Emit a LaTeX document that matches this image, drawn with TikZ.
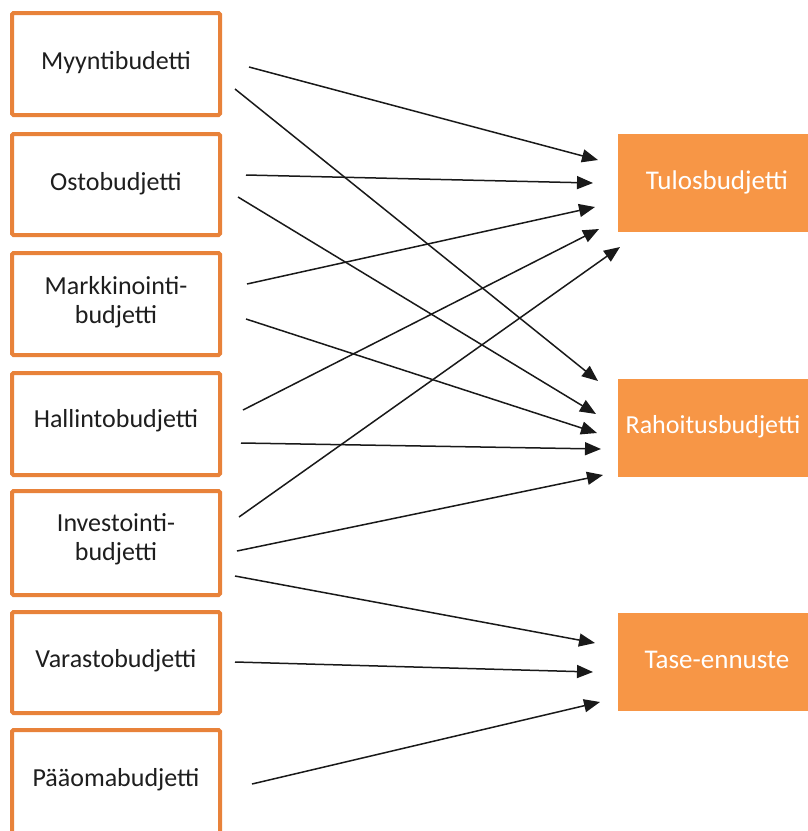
\documentclass[tikz,border=0pt]{standalone}
\usepackage{fontspec}
\setmainfont{Carlito}
\usetikzlibrary{arrows.meta}
\definecolor{boxborder}{HTML}{E8823A}
\definecolor{boxfill}{HTML}{F79646}
\definecolor{txt}{HTML}{1E1E1E}
\tikzset{
  srcbox/.style={draw=boxborder, line width=4pt, fill=white, rounded corners=1.5pt},
  srctext/.style={text=txt, align=center, font=\fontsize{26}{29.5}\selectfont},
  dstbox/.style={fill=boxfill},
  dsttext/.style={text=white, align=center, font=\fontsize{27}{30}\selectfont},
  arr/.style={line width=1.5pt, black!90, -{Triangle[length=16pt,width=13pt]}}
}
\begin{document}
\begin{tikzpicture}[x=1pt,y=-1pt]
\useasboundingbox (0,0) rectangle (808,831);
\clip (0,0) rectangle (808,831);
% left boxes
\draw[srcbox] (12,13) rectangle (220,115);
\draw[srcbox] (12,134) rectangle (220,235);
\draw[srcbox] (12,253) rectangle (220,355);
\draw[srcbox] (12,373) rectangle (220,475);
\draw[srcbox] (12,491) rectangle (220,595);
\draw[srcbox] (12,612) rectangle (220,713);
\draw[srcbox] (12,730) rectangle (220,840);
\node[srctext] (myynti) at (116,63) {Myyntibudetti};
\node[srctext] (osto) at (116,184) {Ostobudjetti};
\node[srctext] (markk) at (116,302) {Markkinointi-\\budjetti};
\node[srctext] (hallinto) at (116,421) {Hallintobudjetti};
\node[srctext] (invest) at (116,539) {Investointi-\\budjetti};
\node[srctext] (varasto) at (116,661) {Varastobudjetti};
\node[srctext] (paaoma) at (116,780) {Pääomabudjetti};
% right boxes
\fill[dstbox] (618,134) rectangle (820,232);
\fill[dstbox] (618,379) rectangle (820,477);
\fill[dstbox] (618,613) rectangle (820,711);
\node[dsttext] (tulos) at (717,182) {Tulosbudjetti};
\node[dsttext, font=\fontsize{26}{30}\selectfont] (rahoitus) at (713,427) {Rahoitusbudjetti};
\node[dsttext] (tase) at (717,660) {Tase-ennuste};
% arrow endpoints
\coordinate (s1) at (249,67);  \coordinate (e1) at (598,160);
\coordinate (s2) at (235,89);  \coordinate (e2) at (598,381);
\coordinate (s3) at (246,175); \coordinate (e3) at (593,183);
\coordinate (s4) at (238,197); \coordinate (e4) at (596,414);
\coordinate (s5) at (247,284); \coordinate (e5) at (595,207);
\coordinate (s6) at (246,319); \coordinate (e6) at (597,433);
\coordinate (s7) at (243,410); \coordinate (e7) at (599,229);
\coordinate (s8) at (241,443); \coordinate (e8) at (601,449);
\coordinate (s9) at (239,517); \coordinate (e9) at (620,247);
\coordinate (s10) at (237,551); \coordinate (e10) at (603,475);
\coordinate (s11) at (235,576); \coordinate (e11) at (595,643);
\coordinate (s12) at (235,662); \coordinate (e12) at (593,672);
\coordinate (s13) at (252,784); \coordinate (e13) at (600,702);
\foreach \i in {1,...,13} \draw[arr] (s\i) -- (e\i);
\end{tikzpicture}
\end{document}
